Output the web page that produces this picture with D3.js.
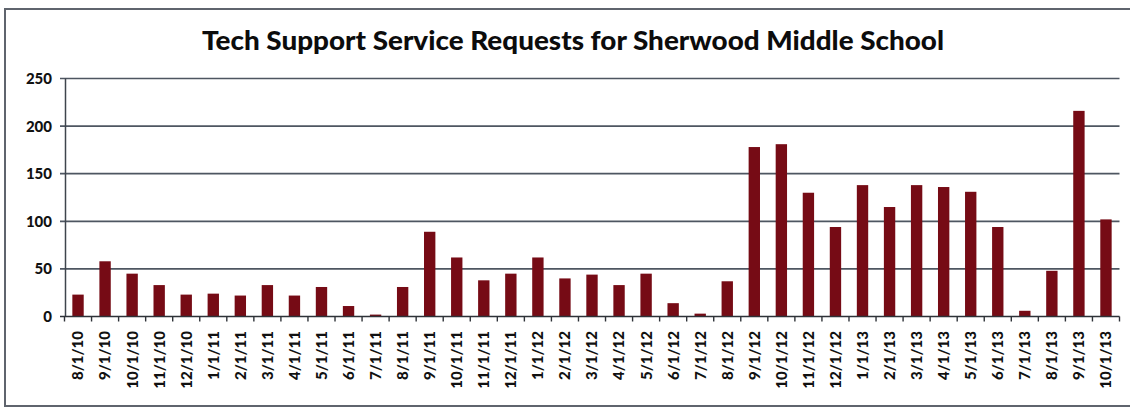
<!DOCTYPE html>
<html>
<head>
<meta charset="utf-8">
<script src="https://cdn.jsdelivr.net/npm/d3@7/dist/d3.min.js"></script>
<style>
  html, body { margin: 0; padding: 0; background: #fff; }
  svg { display: block; }
</style>
</head>
<body>
<svg id="chart" width="1130" height="411"></svg>
<script>
// Monthly request counts, Aug 2010 – Oct 2013
const months = [
  "8/1/10","9/1/10","10/1/10","11/1/10","12/1/10",
  "1/1/11","2/1/11","3/1/11","4/1/11","5/1/11","6/1/11","7/1/11","8/1/11","9/1/11","10/1/11","11/1/11","12/1/11",
  "1/1/12","2/1/12","3/1/12","4/1/12","5/1/12","6/1/12","7/1/12","8/1/12","9/1/12","10/1/12","11/1/12","12/1/12",
  "1/1/13","2/1/13","3/1/13","4/1/13","5/1/13","6/1/13","7/1/13","8/1/13","9/1/13","10/1/13"
];
const requests = [
  23, 58, 45, 33, 23,
  24, 22, 33, 22, 31, 11, 2, 31, 89, 62, 38, 45,
  62, 40, 44, 33, 45, 14, 3, 37, 178, 181, 130, 94,
  138, 115, 138, 136, 131, 94, 6, 48, 216, 102
];
const yTicks = [0, 50, 100, 150, 200, 250];
const title = "Tech Support Service Requests for Sherwood Middle School";

const svg = d3.select("#chart");
const font = "Lato, 'Open Sans', sans-serif";

// outer frame
svg.append("rect")
  .attr("x", 5).attr("y", 9)
  .attr("width", 1135).attr("height", 397)
  .attr("fill", "none")
  .attr("stroke", "#5f646d")
  .attr("stroke-width", 2);

const x = d3.scaleBand()
  .domain(months)
  .range([64.5, 1119.5])
  .paddingInner(0.58)
  .paddingOuter(0.29);

const y = d3.scaleLinear()
  .domain([0, 250])
  .range([316.5, 78.5]);

// horizontal gridlines with short ticks left of the axis
svg.append("g").selectAll("line")
  .data(yTicks.filter(d => d > 0))
  .join("line")
  .attr("x1", 60).attr("x2", 1119.5)
  .attr("y1", d => y(d)).attr("y2", d => y(d))
  .attr("stroke", "#4e5661")
  .attr("stroke-width", 1.7);

// y tick labels
svg.append("g").selectAll("text")
  .data(yTicks)
  .join("text")
  .attr("x", 52)
  .attr("y", d => y(d))
  .attr("dy", "0.36em")
  .attr("text-anchor", "end")
  .attr("font-family", font)
  .attr("font-weight", 900)
  .attr("font-size", 15)
  .attr("fill", "#111")
  .text(d => d);

// bars
svg.append("g").selectAll("rect")
  .data(months.map((m, i) => ({ m, v: requests[i] })))
  .join("rect")
  .attr("x", d => x(d.m))
  .attr("width", x.bandwidth())
  .attr("y", d => y(d.v))
  .attr("height", d => y(0) - y(d.v))
  .attr("fill", "#760b15");

// y axis line
svg.append("line")
  .attr("x1", 65.5).attr("x2", 65.5)
  .attr("y1", y(250)).attr("y2", y(0))
  .attr("stroke", "#3f454d")
  .attr("stroke-width", 1.5);

// x axis line with ticks on category boundaries
svg.append("line")
  .attr("x1", 60).attr("x2", 1119.5)
  .attr("y1", y(0)).attr("y2", y(0))
  .attr("stroke", "#2e3238")
  .attr("stroke-width", 1.6);

const step = x.step();
const x0 = x.range()[0];
svg.append("g").selectAll("line")
  .data(d3.range(months.length + 1))
  .join("line")
  .attr("x1", i => x0 + i * step).attr("x2", i => x0 + i * step)
  .attr("y1", y(0)).attr("y2", y(0) + 5)
  .attr("stroke", "#2e3238")
  .attr("stroke-width", 1.4);

// rotated month labels
svg.append("g").selectAll("text")
  .data(months)
  .join("text")
  .attr("transform", d => `translate(${x(d) + x.bandwidth() / 2},331) rotate(-90)`)
  .attr("dy", "0.36em")
  .attr("text-anchor", "end")
  .attr("font-family", font)
  .attr("font-weight", 900)
  .attr("font-size", 15)
  .attr("fill", "#111")
  .text(d => d);

// title
svg.append("text")
  .attr("x", 573)
  .attr("y", 50)
  .attr("text-anchor", "middle")
  .attr("font-family", font)
  .attr("font-weight", 900)
  .attr("font-size", 26)
  .attr("fill", "#0c0c0c")
  .attr("textLength", 742)
  .attr("lengthAdjust", "spacingAndGlyphs")
  .text(title);
</script>
</body>
</html>
